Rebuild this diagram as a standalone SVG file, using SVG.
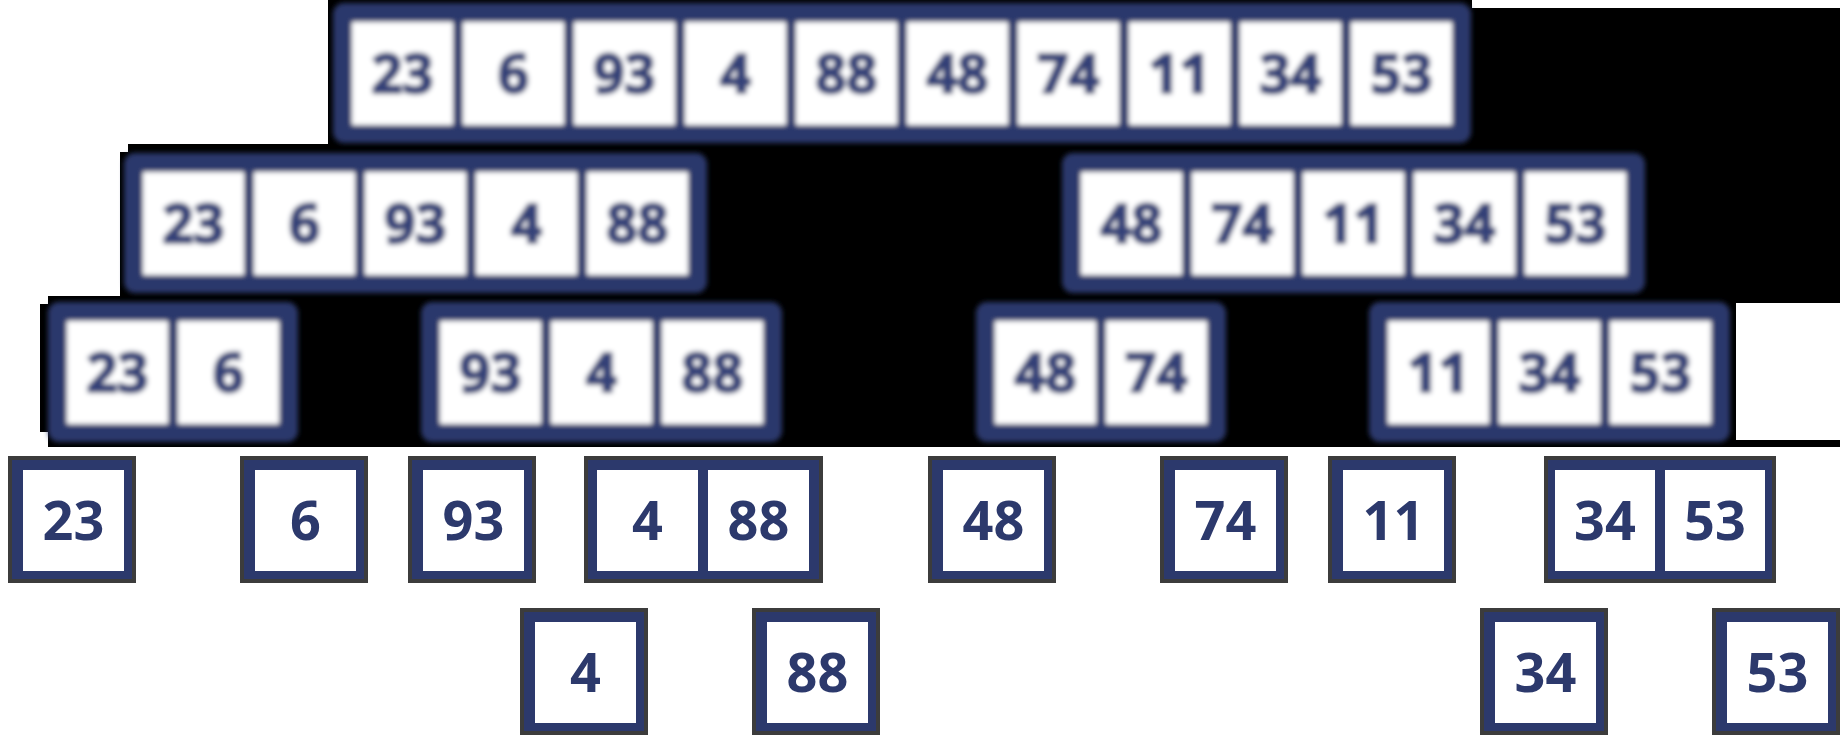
<svg xmlns="http://www.w3.org/2000/svg" width="1845" height="746" viewBox="0 0 1845 746">
<defs>
<filter id="soft" x="-5%" y="-10%" width="110%" height="120%"><feGaussianBlur stdDeviation="2.4"/></filter>
<style>
.frame{fill:#2c396c}
.cell{fill:#ffffff}
.rim{fill:#3c3c3c}
.num{font-family:"Open Sans","Noto Sans",sans-serif;font-weight:700;font-size:54px;fill:#2c396c;text-anchor:middle}
.soft .num{stroke:#2c396c;stroke-width:2.2;fill:#34427a}
.soft{filter:url(#soft)}
</style>
</defs>
<rect x="0" y="0" width="1845" height="746" fill="#ffffff"/>
<path d="M328,0 H1472 V8 H1840 V303 H1736 V440 H1840 V447 H48 V432 H40 V304 H48 V296 H120 V152 H128 V144 H328 Z" fill="#000000"/>
<g id="connectors"></g>

<g id="n-root" class="soft">
<rect class="frame" x="333" y="3" width="1138" height="140" rx="11"/>
<rect class="cell" x="352" y="22" width="101" height="103"/>
<rect class="cell" x="463" y="22" width="101" height="103"/>
<rect class="cell" x="574" y="22" width="101" height="103"/>
<rect class="cell" x="685" y="22" width="101" height="103"/>
<rect class="cell" x="796" y="22" width="101" height="103"/>
<rect class="cell" x="907" y="22" width="101" height="103"/>
<rect class="cell" x="1018" y="22" width="101" height="103"/>
<rect class="cell" x="1129" y="22" width="101" height="103"/>
<rect class="cell" x="1240" y="22" width="101" height="103"/>
<rect class="cell" x="1351" y="22" width="101" height="103"/>
<text class="num" x="402.5" y="93">23</text>
<text class="num" x="513.5" y="93">6</text>
<text class="num" x="624.5" y="93">93</text>
<text class="num" x="735.5" y="93">4</text>
<text class="num" x="846.5" y="93">88</text>
<text class="num" x="957.5" y="93">48</text>
<text class="num" x="1068.5" y="93">74</text>
<text class="num" x="1179.5" y="93">11</text>
<text class="num" x="1290.5" y="93">34</text>
<text class="num" x="1401.5" y="93">53</text>
</g>

<g id="n-left" class="soft">
<rect class="frame" x="124" y="153" width="583" height="140" rx="11"/>
<rect class="cell" x="143" y="172" width="101" height="103"/>
<rect class="cell" x="254" y="172" width="101" height="103"/>
<rect class="cell" x="365" y="172" width="101" height="103"/>
<rect class="cell" x="476" y="172" width="101" height="103"/>
<rect class="cell" x="587" y="172" width="101" height="103"/>
<text class="num" x="193.5" y="243">23</text>
<text class="num" x="304.5" y="243">6</text>
<text class="num" x="415.5" y="243">93</text>
<text class="num" x="526.5" y="243">4</text>
<text class="num" x="637.5" y="243">88</text>
</g>

<g id="n-right" class="soft">
<rect class="frame" x="1062" y="153" width="583" height="140" rx="11"/>
<rect class="cell" x="1081" y="172" width="101" height="103"/>
<rect class="cell" x="1192" y="172" width="101" height="103"/>
<rect class="cell" x="1303" y="172" width="101" height="103"/>
<rect class="cell" x="1414" y="172" width="101" height="103"/>
<rect class="cell" x="1525" y="172" width="101" height="103"/>
<text class="num" x="1131.5" y="243">48</text>
<text class="num" x="1242.5" y="243">74</text>
<text class="num" x="1353.5" y="243">11</text>
<text class="num" x="1464.5" y="243">34</text>
<text class="num" x="1575.5" y="243">53</text>
</g>

<g id="n-23-6" class="soft">
<rect class="frame" x="48" y="302" width="250" height="140" rx="11"/>
<rect class="cell" x="67" y="321" width="101" height="103"/>
<rect class="cell" x="178" y="321" width="101" height="103"/>
<text class="num" x="117.5" y="392">23</text>
<text class="num" x="228.5" y="392">6</text>
</g>

<g id="n-93-4-88" class="soft">
<rect class="frame" x="421" y="302" width="361" height="140" rx="11"/>
<rect class="cell" x="440" y="321" width="101" height="103"/>
<rect class="cell" x="551" y="321" width="101" height="103"/>
<rect class="cell" x="662" y="321" width="101" height="103"/>
<text class="num" x="490.5" y="392">93</text>
<text class="num" x="601.5" y="392">4</text>
<text class="num" x="712.5" y="392">88</text>
</g>

<g id="n-48-74" class="soft">
<rect class="frame" x="976" y="302" width="250" height="140" rx="11"/>
<rect class="cell" x="995" y="321" width="101" height="103"/>
<rect class="cell" x="1106" y="321" width="101" height="103"/>
<text class="num" x="1045.5" y="392">48</text>
<text class="num" x="1156.5" y="392">74</text>
</g>

<g id="n-11-34-53" class="soft">
<rect class="frame" x="1369" y="302" width="361" height="140" rx="11"/>
<rect class="cell" x="1388" y="321" width="101" height="103"/>
<rect class="cell" x="1499" y="321" width="101" height="103"/>
<rect class="cell" x="1610" y="321" width="101" height="103"/>
<text class="num" x="1438.5" y="392">11</text>
<text class="num" x="1549.5" y="392">34</text>
<text class="num" x="1660.5" y="392">53</text>
</g>

<g id="leaf-23">
<rect class="rim" x="8" y="456" width="128" height="127"/>
<rect class="frame" x="12" y="460" width="120" height="119"/>
<rect class="cell" x="23" y="470" width="101" height="101"/>
<text class="num" x="73.5" y="540">23</text>
</g>
<g id="leaf-6">
<rect class="rim" x="240" y="456" width="128" height="127"/>
<rect class="frame" x="244" y="460" width="120" height="119"/>
<rect class="cell" x="255" y="470" width="101" height="101"/>
<text class="num" x="305.5" y="540">6</text>
</g>
<g id="leaf-93">
<rect class="rim" x="408" y="456" width="128" height="127"/>
<rect class="frame" x="412" y="460" width="120" height="119"/>
<rect class="cell" x="423" y="470" width="101" height="101"/>
<text class="num" x="473.5" y="540">93</text>
</g>
<g id="pair-4-88">
<rect class="rim" x="584" y="456" width="239" height="127"/>
<rect class="frame" x="588" y="460" width="231" height="119"/>
<rect class="cell" x="597" y="470" width="101" height="101"/>
<rect class="cell" x="708" y="470" width="101" height="101"/>
<text class="num" x="647.5" y="540">4</text>
<text class="num" x="758.5" y="540">88</text>
</g>
<g id="leaf-48">
<rect class="rim" x="928" y="456" width="128" height="127"/>
<rect class="frame" x="932" y="460" width="120" height="119"/>
<rect class="cell" x="943" y="470" width="101" height="101"/>
<text class="num" x="993.5" y="540">48</text>
</g>
<g id="leaf-74">
<rect class="rim" x="1160" y="456" width="128" height="127"/>
<rect class="frame" x="1164" y="460" width="120" height="119"/>
<rect class="cell" x="1175" y="470" width="101" height="101"/>
<text class="num" x="1225.5" y="540">74</text>
</g>
<g id="leaf-11">
<rect class="rim" x="1328" y="456" width="128" height="127"/>
<rect class="frame" x="1332" y="460" width="120" height="119"/>
<rect class="cell" x="1343" y="470" width="101" height="101"/>
<text class="num" x="1393.5" y="540">11</text>
</g>
<g id="pair-34-53">
<rect class="rim" x="1544" y="456" width="232" height="127"/>
<rect class="frame" x="1548" y="460" width="224" height="119"/>
<rect class="cell" x="1555" y="470" width="100" height="101"/>
<rect class="cell" x="1665" y="470" width="100" height="101"/>
<text class="num" x="1605" y="540">34</text>
<text class="num" x="1715" y="540">53</text>
</g>
<g id="leaf-4">
<rect class="rim" x="520" y="608" width="128" height="127"/>
<rect class="frame" x="524" y="612" width="120" height="119"/>
<rect class="cell" x="535" y="622" width="101" height="101"/>
<text class="num" x="585.5" y="692">4</text>
</g>
<g id="leaf-88">
<rect class="rim" x="752" y="608" width="128" height="127"/>
<rect class="frame" x="756" y="612" width="120" height="119"/>
<rect class="cell" x="767" y="622" width="101" height="101"/>
<text class="num" x="817.5" y="692">88</text>
</g>
<g id="leaf-34">
<rect class="rim" x="1480" y="608" width="128" height="127"/>
<rect class="frame" x="1484" y="612" width="120" height="119"/>
<rect class="cell" x="1495" y="622" width="101" height="101"/>
<text class="num" x="1545.5" y="692">34</text>
</g>
<g id="leaf-53">
<rect class="rim" x="1712" y="608" width="128" height="127"/>
<rect class="frame" x="1716" y="612" width="120" height="119"/>
<rect class="cell" x="1727" y="622" width="101" height="101"/>
<text class="num" x="1777.5" y="692">53</text>
</g>
</svg>
